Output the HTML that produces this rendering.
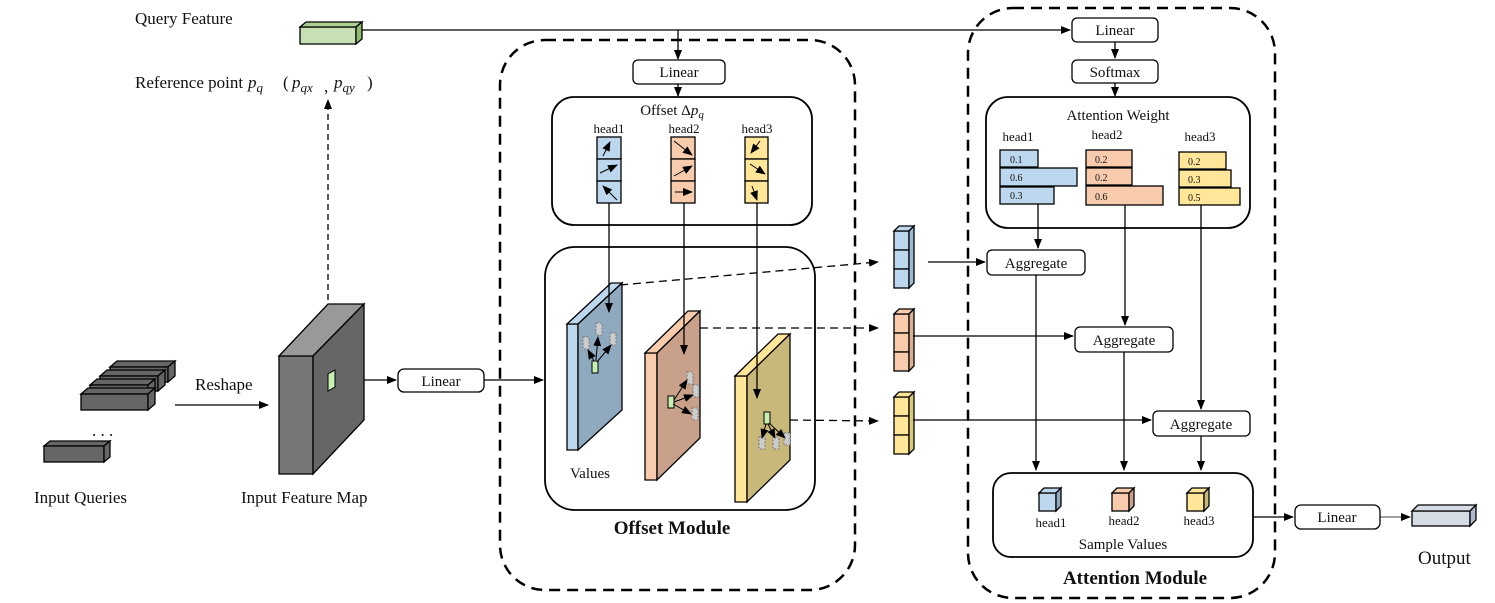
<!DOCTYPE html>
<html><head><meta charset="utf-8"><style>
html,body{margin:0;padding:0;background:#fff}
svg{display:block}
text{font-family:"Liberation Serif",serif;fill:#111}
</style></head><body>
<svg width="1495" height="603" viewBox="0 0 1495 603" xmlns="http://www.w3.org/2000/svg">
<defs>
<marker id="a" markerWidth="10" markerHeight="8" refX="9" refY="4" orient="auto" markerUnits="userSpaceOnUse"><path d="M0,0 L10,4 L0,8 Z" fill="#000"/></marker>
</defs>
<g stroke="#000" stroke-width="1.3" fill="none">
<!-- query feature -->
<polygon points="300,27 356,27 356,44 300,44" fill="#c6e0b4"/>
<polygon points="300,27 306,22 362,22 356,27" fill="#a9d08e"/>
<polygon points="356,27 362,22 362,39 356,44" fill="#8fbc6e"/>
<path d="M362,30 H1070" marker-end="url(#a)"/>
<path d="M678,30 V59" marker-end="url(#a)"/>
<!-- reference dashed -->
<path d="M328,350 V100" stroke-dasharray="6,4" marker-end="url(#a)"/>
<!-- input queries -->
<g fill="#666">
<polygon points="110,367 168,367 175,361 117,361"/><rect x="110" y="367" width="58" height="15"/><polygon points="168,367 175,361 175,376 168,382"/>
<polygon points="100,376 158,376 165,370 107,370"/><rect x="100" y="376" width="58" height="15"/><polygon points="158,376 165,370 165,385 158,391"/>
<polygon points="90,385 148,385 155,379 97,379"/><rect x="90" y="385" width="58" height="15"/><polygon points="148,385 155,379 155,394 148,400"/>
<polygon points="81,394 148,394 155,388 88,388"/><rect x="81" y="394" width="67" height="16"/><polygon points="148,394 155,388 155,404 148,410"/>
<polygon points="44,446 104,446 110,441 50,441"/><rect x="44" y="446" width="60" height="16"/><polygon points="104,446 110,441 110,457 104,462"/>
</g>
<path d="M175,405 H268" marker-end="url(#a)"/>
<!-- feature map -->
<polygon points="279,356 313,356 313,474 279,474" fill="#777"/>
<polygon points="279,356 328,304 364,304 313,356" fill="#999"/>
<polygon points="313,356 364,304 364,420 313,474" fill="#666"/>
<polygon points="328,374 335,370 335,387 328,391" fill="#c6efb0" stroke-width="1"/>
<path d="M364,380 H396" marker-end="url(#a)"/>
<rect x="398" y="369" width="86" height="23" rx="6" fill="#fff"/>
<path d="M484,380 H543" marker-end="url(#a)"/>
<!-- offset module -->
<rect x="500" y="40" width="355" height="550" rx="45" stroke-width="2.5" stroke-dasharray="11,7"/>
<rect x="633" y="60" width="92" height="24" rx="5" fill="#fff"/>
<path d="M678,84 V96" marker-end="url(#a)"/>
<rect x="552" y="97" width="260" height="128" rx="22" stroke-width="1.8"/>
<rect x="545" y="247" width="270" height="263" rx="30" stroke-width="1.8"/>
<g fill="#bdd7ee"><rect x="597" y="137" width="24" height="22"/><rect x="597" y="159" width="24" height="22"/><rect x="597" y="181" width="24" height="22"/></g>
<g fill="#f8cbad"><rect x="671" y="137" width="24" height="22"/><rect x="671" y="159" width="24" height="22"/><rect x="671" y="181" width="24" height="22"/></g>
<g fill="#ffe699"><rect x="745" y="137" width="23" height="22"/><rect x="745" y="159" width="23" height="22"/><rect x="745" y="181" width="23" height="22"/></g>
<g stroke-width="1" marker-end="url(#a)">
<path d="M603,156 L610,142"/><path d="M600,173 L617,165"/><path d="M617,200 L603,186"/>
<path d="M674,141 L692,155"/><path d="M674,176 L692,166"/><path d="M675,192 L692,192"/>
<path d="M760,141 L751,153"/><path d="M750,164 L765,174"/><path d="M752,186 L757,200"/>
</g>
<!-- panels -->
<polygon points="567,324 578,324 578,450 567,450" fill="#bdd7ee"/>
<polygon points="567,324 611,283 622,283 578,324" fill="#bdd7ee"/>
<polygon points="578,324 622,283 622,410 578,450" fill="#8faabf"/>
<polygon points="645,353 657,353 657,480 645,480" fill="#f8cbad"/>
<polygon points="645,353 688,311 700,311 657,353" fill="#f8cbad"/>
<polygon points="657,353 700,311 700,438 657,480" fill="#c9a08a"/>
<polygon points="735,376 747,376 747,502 735,502" fill="#ffe699"/>
<polygon points="735,376 778,334 790,334 747,376" fill="#ffe699"/>
<polygon points="747,376 790,334 790,460 747,502" fill="#c8b87a"/>
<g fill="#c6efb0" stroke-width="1"><rect x="592" y="361" width="6" height="12"/><rect x="668" y="396" width="6" height="12"/><rect x="764" y="412" width="6" height="12"/></g>
<g fill="#ccc" stroke="#777" stroke-width="1" stroke-dasharray="2,1.5">
<rect x="583" y="337" width="6" height="12"/><rect x="596" y="323" width="6" height="12"/><rect x="610" y="333" width="6" height="12"/>
<rect x="687" y="372" width="6" height="12"/><rect x="693" y="385" width="6" height="12"/><rect x="692" y="408" width="6" height="12"/>
<rect x="759" y="437" width="6" height="12"/><rect x="773" y="437" width="6" height="12"/><rect x="784" y="433" width="6" height="12"/>
</g>
<g stroke-width="1" marker-end="url(#a)">
<path d="M594,361 L588,350"/><path d="M596,360 L598,337"/><path d="M597,362 L611,345"/>
<path d="M674,400 L687,380"/><path d="M674,402 L693,395"/><path d="M673,404 L691,414"/>
<path d="M766,424 L762,438"/><path d="M768,424 L775,438"/><path d="M769,423 L785,438"/>
</g>
<path d="M609,203 V312" marker-end="url(#a)"/>
<path d="M684,203 V354" marker-end="url(#a)"/>
<path d="M757,203 V398" marker-end="url(#a)"/>
<g stroke-dasharray="8,5">
<path d="M620,285 L878,262" marker-end="url(#a)"/>
<path d="M700,328 L878,328" marker-end="url(#a)"/>
<path d="M790,420 L878,421" marker-end="url(#a)"/>
</g>
<!-- cube stacks -->
<g fill="#bdd7ee"><rect x="894" y="231" width="15" height="19"/><rect x="894" y="250" width="15" height="19"/><rect x="894" y="269" width="15" height="19"/><polygon points="894,231 899,226 914,226 909,231"/><polygon points="909,231 914,226 914,283 909,288" fill="#9dbad4"/></g>
<g fill="#f8cbad"><rect x="894" y="314" width="15" height="19"/><rect x="894" y="333" width="15" height="19"/><rect x="894" y="352" width="15" height="19"/><polygon points="894,314 899,309 914,309 909,314"/><polygon points="909,314 914,309 914,366 909,371" fill="#dcaf92"/></g>
<g fill="#ffe699"><rect x="894" y="397" width="15" height="19"/><rect x="894" y="416" width="15" height="19"/><rect x="894" y="435" width="15" height="19"/><polygon points="894,397 899,392 914,392 909,397"/><polygon points="909,397 914,392 914,449 909,454" fill="#dcc77a"/></g>
<!-- attention module -->
<rect x="968" y="8" width="307" height="590" rx="45" stroke-width="2.5" stroke-dasharray="11,7"/>
<rect x="1072" y="18" width="86" height="24" rx="5" fill="#fff"/>
<path d="M1115,42 V58" marker-end="url(#a)"/>
<rect x="1072" y="60" width="86" height="23" rx="5" fill="#fff"/>
<path d="M1115,83 V96" marker-end="url(#a)"/>
<rect x="986" y="97" width="264" height="131" rx="22" stroke-width="1.8"/>
<g fill="#bdd7ee"><rect x="1000" y="150" width="38" height="17"/><rect x="1000" y="168" width="77" height="18"/><rect x="1000" y="187" width="54" height="17"/></g>
<g fill="#f8cbad"><rect x="1086" y="150" width="46" height="17"/><rect x="1086" y="168" width="46" height="17"/><rect x="1086" y="186" width="77" height="19"/></g>
<g fill="#ffe699"><rect x="1179" y="152" width="47" height="17"/><rect x="1179" y="170" width="52" height="17"/><rect x="1179" y="188" width="61" height="17"/></g>
<path d="M1038,204 V248" marker-end="url(#a)"/>
<path d="M1125,205 V325" marker-end="url(#a)"/>
<path d="M1201,205 V409" marker-end="url(#a)"/>
<path d="M928,262 H985" marker-end="url(#a)"/>
<path d="M913,336 H1073" marker-end="url(#a)"/>
<path d="M913,420 H1151" marker-end="url(#a)"/>
<rect x="987" y="250" width="98" height="25" rx="5" fill="#fff"/>
<rect x="1075" y="327" width="98" height="25" rx="5" fill="#fff"/>
<rect x="1153" y="411" width="97" height="25" rx="5" fill="#fff"/>
<path d="M1036,275 V470" marker-end="url(#a)"/>
<path d="M1124,352 V470" marker-end="url(#a)"/>
<path d="M1201,436 V470" marker-end="url(#a)"/>
<rect x="993" y="473" width="260" height="84" rx="18" stroke-width="1.8"/>
<g><rect x="1039" y="493" width="17" height="18" fill="#bdd7ee"/><polygon points="1039,493 1044,488 1061,488 1056,493" fill="#bdd7ee"/><polygon points="1056,493 1061,488 1061,506 1056,511" fill="#8faabf"/></g>
<g><rect x="1112" y="493" width="17" height="18" fill="#f8cbad"/><polygon points="1112,493 1117,488 1134,488 1129,493" fill="#f8cbad"/><polygon points="1129,493 1134,488 1134,506 1129,511" fill="#c9a08a"/></g>
<g><rect x="1187" y="493" width="17" height="18" fill="#ffe699"/><polygon points="1187,493 1192,488 1209,488 1204,493" fill="#ffe699"/><polygon points="1204,493 1209,488 1209,506 1204,511" fill="#c8b87a"/></g>
<path d="M1253,517 H1293" marker-end="url(#a)"/>
<rect x="1295" y="505" width="85" height="24" rx="6" fill="#fff"/>
<path d="M1380,517 H1410" stroke-width="0.8" marker-end="url(#a)"/>
<rect x="1412" y="511" width="58" height="15" fill="#d6dce4"/>
<polygon points="1412,511 1418,505 1476,505 1470,511" fill="#d6dce4"/>
<polygon points="1470,511 1476,505 1476,520 1470,526" fill="#adb9ca"/>
</g>
<!-- text -->
<g font-size="17">
<text x="135" y="24">Query Feature</text>
<text x="135" y="88">Reference point</text>
<text x="248" y="88" font-style="italic">p<tspan font-size="13" dy="4">q</tspan></text>
<text x="283" y="88">(</text>
<text x="292" y="88" font-style="italic">p<tspan font-size="13" dy="4">qx</tspan></text>
<text x="324" y="92">,</text>
<text x="334" y="88" font-style="italic">p<tspan font-size="13" dy="4">qy</tspan></text>
<text x="367" y="88">)</text>
<text x="195" y="390">Reshape</text>
<text x="92" y="436">. . .</text>
<text x="34" y="503">Input Queries</text>
<text x="241" y="503">Input Feature Map</text>
<text x="1418" y="564" font-size="19">Output</text>
</g>
<g font-size="15" text-anchor="middle">
<text x="441" y="386">Linear</text>
<text x="679" y="77">Linear</text>
<text x="1115" y="35">Linear</text>
<text x="1115" y="77">Softmax</text>
<text x="1337" y="522">Linear</text>
<text x="1036" y="268">Aggregate</text>
<text x="1124" y="345">Aggregate</text>
<text x="1201" y="429">Aggregate</text>
<text x="672" y="115">Offset Δ<tspan font-style="italic">p</tspan><tspan font-size="11" font-style="italic" dy="3">q</tspan></text>
<text x="1118" y="120">Attention Weight</text>
<text x="1123" y="549">Sample Values</text>
<text x="590" y="478">Values</text>
</g>
<g font-size="13" text-anchor="middle">
<text x="609" y="133">head1</text><text x="684" y="133">head2</text><text x="757" y="133">head3</text>
<text x="1018" y="141">head1</text><text x="1107" y="139">head2</text><text x="1200" y="141">head3</text>
<text x="1051" y="527">head1</text><text x="1124" y="525">head2</text><text x="1199" y="525">head3</text>
</g>
<g font-size="10">
<text x="1010" y="163">0.1</text><text x="1010" y="181">0.6</text><text x="1010" y="199">0.3</text>
<text x="1095" y="163">0.2</text><text x="1095" y="181">0.2</text><text x="1095" y="200">0.6</text>
<text x="1188" y="165">0.2</text><text x="1188" y="183">0.3</text><text x="1188" y="201">0.5</text>
</g>
<g font-size="19" font-weight="bold" text-anchor="middle">
<text x="672" y="534">Offset Module</text>
<text x="1135" y="584">Attention Module</text>
</g>
</svg>
</body></html>
